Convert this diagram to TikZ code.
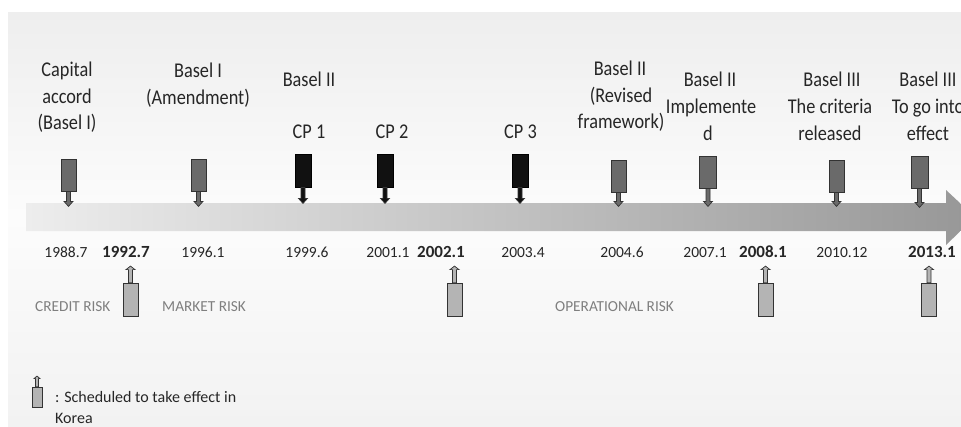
\documentclass[tikz,border=0pt]{standalone}
\usepackage{fontspec}
\setmainfont{Carlito}
\newfontfamily\narrowfont{Carlito}[FakeStretch=0.87]
\definecolor{paneltop}{HTML}{EEEEEE}
\definecolor{panelmid}{HTML}{FCFCFC}
\definecolor{panelbot}{HTML}{F2F2F2}
\definecolor{bandleft}{HTML}{EDEDED}
\definecolor{bandright}{HTML}{979797}
\definecolor{markgray}{HTML}{6A6A6A}
\definecolor{markdark}{HTML}{111111}
\definecolor{korgray}{HTML}{B4B4B4}
\definecolor{riskgray}{HTML}{7F7F7F}
\definecolor{edge}{HTML}{333333}

% stem with arrowhead pointing down from the bottom of a marker
\newcommand\downstem[3][markgray]{%
  \filldraw[stemline, fill=#1] ([xshift=-2pt]#2.south) -- ++(0,#3) -- ++(-2.5,0)
    -- ++(4.5,5) -- ++(4.5,-5) -- ++(-2.5,0) -- ++(0,-#3) -- cycle;}
% stem with arrowhead pointing up from the top of a marker
\newcommand\upstem[4]{%
  \filldraw[stemline, fill=korgray] ([xshift=-#3pt]#1.north) -- ++(0,-#2) -- ++(-#4,0)
    -- ++(#3+#4,-#4-1) -- ++(#3+#4,#4+1) -- ++(-#4,0) -- ++(0,#2) -- cycle;}

\begin{document}
\begin{tikzpicture}[x=1pt,y=-1pt,
  stemline/.style={draw=edge, line width=0.7pt},
  topmark/.style={draw=edge, line width=0.8pt, fill=markgray, minimum width=15pt,
    minimum height=32pt, inner sep=0pt},
  cpmark/.style={topmark, fill=markdark, draw=black, minimum width=16pt, minimum height=33pt},
  kormark/.style={draw=edge, line width=0.8pt, fill=korgray, minimum width=15pt,
    minimum height=33pt, inner sep=0pt},
  lbl/.style={font=\narrowfont\fontsize{21}{25}\selectfont, inner sep=0pt, anchor=base, text=black!85},
  datelbl/.style={font=\fontsize{15.5}{18}\selectfont, inner sep=0pt, anchor=base, text=black!85},
  bdatelbl/.style={datelbl, font=\bfseries\fontsize{17}{20}\selectfont},
  risk/.style={font=\fontsize{15.3}{18}\selectfont, text=riskgray, inner sep=0pt, anchor=base west},
  note/.style={font=\fontsize{16}{19}\selectfont, inner sep=0pt, anchor=base west, text=black!85}]

\useasboundingbox (0,0) rectangle (961,426);
\clip (0,0) rectangle (961,426);

% background panel
\fill[white] (0,0) rectangle (961,426);
\shade[top color=paneltop, bottom color=panelmid] (8,12) rectangle (961,216);
\shade[top color=panelmid, bottom color=panelbot] (8,216) rectangle (961,426);

% time band with arrowhead
\shade[left color=bandleft, right color=bandright]
  (26,203) -- (946,203) -- (946,190) -- (975,217) -- (946,245) -- (946,231) -- (26,231) -- cycle;

% markers above the band
\node[topmark] (m1) at (68.5,175) {};
\node[topmark] (m2) at (198.5,175) {};
\node[cpmark]  (m3) at (303,170.5) {};
\node[cpmark]  (m4) at (385,170.5) {};
\node[cpmark]  (m5) at (520,170.5) {};
\node[topmark] (m6) at (618.5,176) {};
\node[topmark, minimum width=17pt] (m7) at (708,172) {};
\node[topmark] (m8) at (836.5,176) {};
\node[topmark, minimum width=17pt] (m9) at (919.5,172) {};
\downstem{m1}{10}
\downstem{m2}{10}
\downstem[markdark]{m3}{11}
\downstem[markdark]{m4}{11}
\downstem[markdark]{m5}{11}
\downstem{m6}{9}
\downstem{m7}{13}
\downstem{m8}{9}
\downstem{m9}{14}

% event labels
\node[lbl] (a1) at (67,76)  {Capital};
\node[lbl] (a2) at (67,103) {accord};
\node[lbl] (a3) at (67,129) {(Basel I)};
\node[lbl] (b1) at (198,77) {Basel I};
\node[lbl] (b2) at (198,104) {(Amendment)};
\node[lbl] (c0) at (309,86) {Basel II};
\node[lbl] (c1) at (309,138) {CP 1};
\node[lbl] (c2) at (392,138) {CP 2};
\node[lbl] (c3) at (520.5,138) {CP 3};
\node[lbl] (d1) at (620,75)  {Basel II};
\node[lbl] (d2) at (621,102) {(Revised};
\node[lbl] (d3) at (621,128) {framework)};
\node[lbl] (e1) at (710,86)  {Basel II};
\node[lbl] (e2) at (711,113) {Implemente};
\node[lbl] (e3) at (708,140) {d};
\node[lbl] (f1) at (832,86)  {Basel III};
\node[lbl] (f2) at (830,113) {The criteria};
\node[lbl] (f3) at (830,140) {released};
\node[lbl] (g1) at (928,86)  {Basel III};
\node[lbl] (g2) at (928,113) {To go into};
\node[lbl] (g3) at (928,140) {effect};

% dates under the band
\node[datelbl]  (y1)  at (66,257)  {1988.7};
\node[bdatelbl] (y2)  at (126,257) {1992.7};
\node[datelbl]  (y3)  at (203,257) {1996.1};
\node[datelbl]  (y4)  at (307,257) {1999.6};
\node[datelbl]  (y5)  at (388,257) {2001.1};
\node[bdatelbl] (y6)  at (441,257) {2002.1};
\node[datelbl]  (y7)  at (523,257) {2003.4};
\node[datelbl]  (y8)  at (622,257) {2004.6};
\node[datelbl]  (y9)  at (705,257) {2007.1};
\node[bdatelbl] (y10) at (763,257) {2008.1};
\node[datelbl]  (y11) at (842,257) {2010.12};
\node[bdatelbl] (y12) at (932,257) {2013.1};

% dates of effect in Korea
\node[kormark] (k1) at (130.5,299.5) {};
\node[kormark] (k2) at (454.5,299.5) {};
\node[kormark] (k3) at (765.5,299.5) {};
\node[kormark] (k4) at (929,299.5) {};
\upstem{k1}{13}{2}{2.5}
\upstem{k2}{13}{2}{2.5}
\upstem{k3}{13}{2}{2.5}
\upstem{k4}{13}{2}{2.5}

% risk categories
\node[risk] (r1) at (35,311)  {CREDIT RISK};
\node[risk] (r2) at (162,311) {MARKET RISK};
\node[risk] (r3) at (555,311) {OPERATIONAL RISK};

% legend
\node[kormark, minimum width=10pt, minimum height=20pt] (key) at (37,397) {};
\upstem{key}{8}{1.5}{1.5}
\node[note] (n1) at (55,402) {: Scheduled to take effect in};
\node[note] (n2) at (55,423) {Korea};
\end{tikzpicture}
\end{document}
